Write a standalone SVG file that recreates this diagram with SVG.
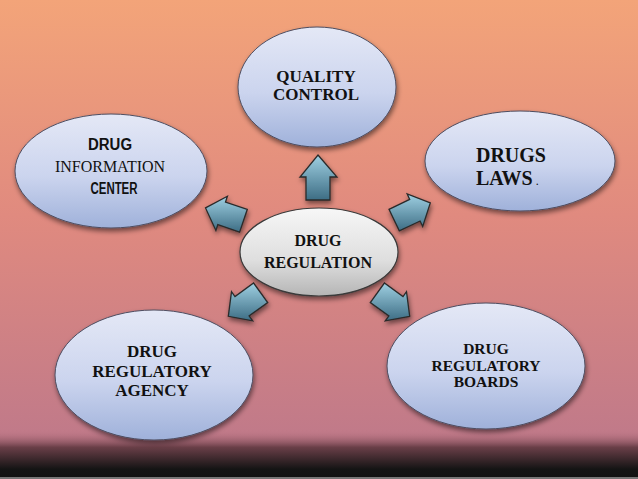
<svg xmlns="http://www.w3.org/2000/svg" width="638" height="479" viewBox="0 0 638 479">
<defs>
<linearGradient id="bg" x1="0" y1="0" x2="0" y2="1">
<stop offset="0" stop-color="#f3a479"/>
<stop offset="0.45" stop-color="#e08a7f"/>
<stop offset="0.9" stop-color="#c17a89"/>
<stop offset="1" stop-color="#bf7888"/>
</linearGradient>
<linearGradient id="dark" x1="0" y1="0" x2="0" y2="1">
<stop offset="0" stop-color="#bf7888" stop-opacity="0"/>
<stop offset="0.35" stop-color="#6a3f48"/>
<stop offset="0.8" stop-color="#141414"/>
<stop offset="1" stop-color="#111111"/>
</linearGradient>
<linearGradient id="blue" x1="0" y1="0" x2="0" y2="1">
<stop offset="0" stop-color="#e4e8f6"/>
<stop offset="0.55" stop-color="#cbd4ee"/>
<stop offset="1" stop-color="#9fb1da"/>
</linearGradient>
<linearGradient id="grey" x1="0" y1="0" x2="0" y2="1">
<stop offset="0" stop-color="#f7f7f7"/>
<stop offset="0.6" stop-color="#dedede"/>
<stop offset="1" stop-color="#b5b5b5"/>
</linearGradient>
<linearGradient id="arr" x1="0" y1="0" x2="0" y2="1">
<stop offset="0" stop-color="#9fd0e2"/>
<stop offset="1" stop-color="#3d6d84"/>
</linearGradient>
<filter id="sh" x="-20%" y="-20%" width="140%" height="150%">
<feGaussianBlur in="SourceAlpha" stdDeviation="2.5"/>
<feOffset dx="1" dy="3" result="b"/>
<feComponentTransfer><feFuncA type="linear" slope="0.5"/></feComponentTransfer>
<feMerge><feMergeNode/><feMergeNode in="SourceGraphic"/></feMerge>
</filter>
<style>
.el{fill:url(#blue);stroke:#4d4d60;stroke-width:1;filter:url(#sh)}
.ce{fill:url(#grey);stroke:#3a3a3a;stroke-width:1.2;filter:url(#sh)}
.ar{fill:url(#arr);stroke:#2a2a2a;stroke-width:1.3;stroke-linejoin:miter;filter:url(#sh)}
.t{font-family:"Liberation Serif","Times New Roman",serif;font-weight:bold;fill:#111;text-anchor:middle}
.s{font-family:"Liberation Sans",Arial,sans-serif;font-weight:bold;fill:#111;text-anchor:middle}
</style>
</defs>
<rect x="0" y="0" width="638" height="479" fill="url(#bg)"/>
<rect x="0" y="430" width="638" height="49" fill="url(#dark)"/>
<rect x="0" y="477" width="638" height="2" fill="#777"/>

<g id="quality-control">
<ellipse class="el" cx="317" cy="87" rx="79" ry="60"/>
<text class="t" x="316" y="82" font-size="17">QUALITY</text>
<text class="t" x="316" y="100" font-size="17">CONTROL</text>
</g>

<g id="drug-information-center">
<ellipse class="el" cx="111" cy="171" rx="96" ry="57"/>
<text class="s" x="110" y="150" font-size="16" textLength="44" lengthAdjust="spacingAndGlyphs">DRUG</text>
<text x="110" y="172" font-size="16" font-family="Liberation Serif,Times New Roman,serif" fill="#111" text-anchor="middle">INFORMATION</text>
<text class="s" x="114" y="194" font-size="16" textLength="47" lengthAdjust="spacingAndGlyphs">CENTER</text>
</g>

<g id="drugs-laws">
<ellipse class="el" cx="520" cy="161" rx="95" ry="50"/>
<text class="t" x="511" y="162" font-size="20">DRUGS</text>
<text class="t" x="476" y="185" font-size="20" style="text-anchor:start">LAWS<tspan font-size="12" font-weight="normal"> .</tspan></text>
</g>

<g id="drug-regulation">
<ellipse class="ce" cx="319" cy="252" rx="79" ry="44"/>
<text class="t" x="318" y="246" font-size="16">DRUG</text>
<text class="t" x="318" y="268" font-size="16">REGULATION</text>
</g>

<g id="drug-regulatory-agency">
<ellipse class="el" cx="154" cy="375" rx="99" ry="65"/>
<text class="t" x="152" y="357" font-size="17">DRUG</text>
<text class="t" x="152" y="377" font-size="17">REGULATORY</text>
<text class="t" x="152" y="396" font-size="17">AGENCY</text>
</g>

<g id="drug-regulatory-boards">
<ellipse class="el" cx="486" cy="366" rx="99" ry="63"/>
<text class="t" x="486" y="354" font-size="15.5">DRUG</text>
<text class="t" x="486" y="371" font-size="15.5">REGULATORY</text>
<text class="t" x="486" y="387" font-size="15.5">BOARDS</text>
</g>

<g id="connectors">
<polygon class="ar" points="318,155 337,177 330,177 330,200 306,200 306,177 300,177"/>
<polygon class="ar" points="205.5,207.9 227.4,196.3 225.5,202 247.3,209.3 239.6,232.1 217.8,224.7 215.9,230.4"/>
<polygon class="ar" points="430.3,202.9 422.7,226.5 420.1,221 399.3,230.9 389,209.3 409.7,199.4 407.2,194"/>
<polygon class="ar" points="228.3,316.3 231.5,291.7 235,296.6 253.6,283 267.7,302.5 249.1,316 252.7,320.8"/>
<polygon class="ar" points="409.7,316.3 385.3,320.8 388.9,316 370.3,302.5 384.4,283 403,296.6 406.5,291.7"/>
</g>
</svg>
